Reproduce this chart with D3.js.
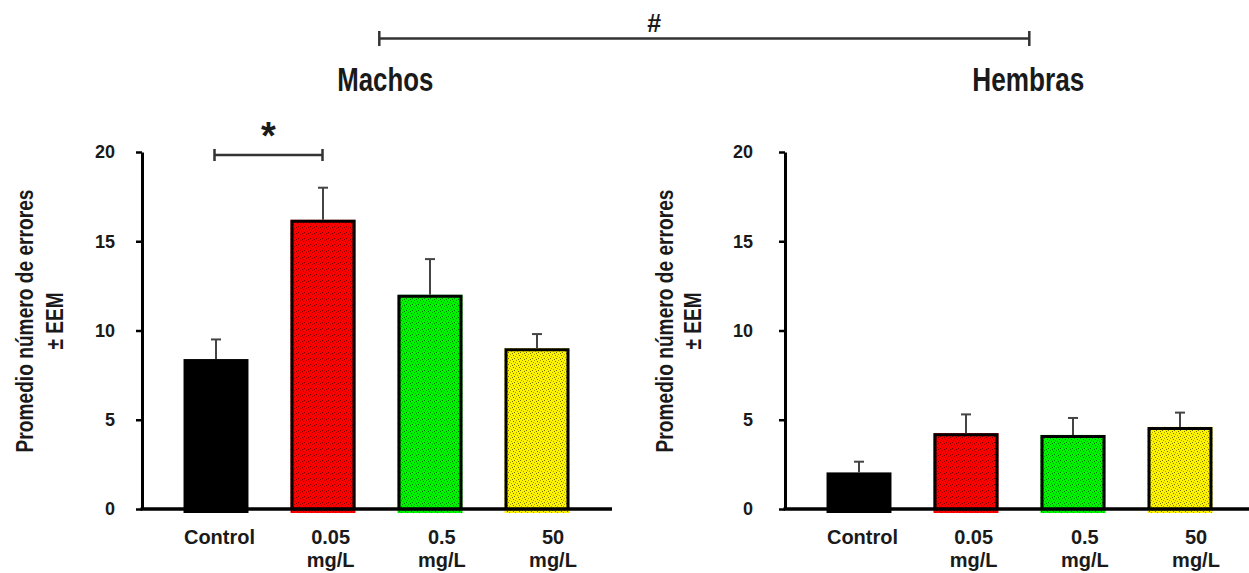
<!DOCTYPE html>
<html>
<head>
<meta charset="utf-8">
<script src="https://cdn.jsdelivr.net/npm/d3@7"></script>
<style>
  html, body { margin: 0; padding: 0; background: #fff; }
  svg { display: block; }
  text { font-family: "Liberation Sans", Arial, Helvetica, sans-serif; font-weight: bold; fill: #1a1a1a; }
</style>
</head>
<body>
<svg id="chart" width="1249" height="573"></svg>
<script>
// ---- data ----
const categories = ["Control", "0.05 mg/L", "0.5 mg/L", "50 mg/L"];
const catLine1 = ["Control", "0.05", "0.5", "50"];
const catLine2 = ["", "mg/L", "mg/L", "mg/L"];
const machosMean = [8.4, 16.2, 12.0, 9.0];
const machosSem = [1.1, 1.8, 2.0, 0.8];
const hembrasMean = [2.05, 4.25, 4.15, 4.6];
const hembrasSem = [0.6, 1.05, 0.95, 0.8];
const yTicks = [0, 5, 10, 15, 20];
const panelTitles = ["Machos", "Hembras"];
const yLabel = ["Promedio número de errores", "± EEM"];
const barColors = ["#000000", "#ff0000", "#00f400", "#fff400"];

// ---- layout ----
const svg = d3.select("#chart");
const y = d3.scaleLinear().domain([0, 20]).range([509, 152]);

const panels = [
  { title: panelTitles[0], mean: machosMean, sem: machosSem, axisX: 142, tickGap: 27, yl1: 109, yl2: 79, baseEnd: 612, titleLen: 96, sig: true },
  { title: panelTitles[1], mean: hembrasMean, sem: hembrasSem, axisX: 785, tickGap: 32, yl1: 112, yl2: 84, baseEnd: 1252, titleLen: 112, sig: false }
];

// patterns
const defs = svg.append("defs");
barColors.forEach((c, i) => {
  if (i === 0) return;
  const p = defs.append("pattern").attr("id", "pat" + i)
    .attr("patternUnits", "userSpaceOnUse").attr("width", 6).attr("height", 6);
  p.append("rect").attr("width", 6).attr("height", 6).attr("fill", c);
  const dots = [[0,0],[3,1],[1,3],[4,4],[5,2],[2,5]];
  dots.forEach(([dx, dy], k) => {
    p.append("rect").attr("x", dx).attr("y", dy).attr("width", 1).attr("height", 1)
      .attr("fill", k % 2 ? "rgba(0,0,0,0.55)" : "rgba(0,0,0,0.35)");
  });
});

const titleCenters = [];

panels.forEach(pn => {
  const g = svg.append("g");
  const r0 = pn.axisX + 20.5;
  const x = d3.scaleBand().domain(categories).range([r0, r0 + 428])
    .paddingInner(0.393).paddingOuter(0.1965);
  const bw = x.bandwidth();
  const cx = c => x(c) + bw / 2;
  const labelX = d3.scalePoint().domain(categories)
    .range([cx(categories[0]) + 3.5, cx(categories[3]) + 16]);

  // bars
  categories.forEach((c, i) => {
    const v = pn.mean[i];
    g.append("rect")
      .attr("x", x(c)).attr("width", bw)
      .attr("y", y(v)).attr("height", y(0) - y(v) + 4)
      .attr("fill", i === 0 ? barColors[0] : "url(#pat" + i + ")");
    if (i > 0) {
      g.append("path")
        .attr("d", `M${x(c) + 1.5},${y(0)}V${y(v) + 1.5}H${x(c) + bw - 1.5}V${y(0)}`)
        .attr("fill", "none").attr("stroke", "#000").attr("stroke-width", 3);
    }
    // error bars
    const top = y(v + pn.sem[i]);
    g.append("line").attr("x1", cx(c)).attr("x2", cx(c))
      .attr("y1", y(v)).attr("y2", top)
      .attr("stroke", "#444").attr("stroke-width", 2);
    g.append("line").attr("x1", cx(c) - 5).attr("x2", cx(c) + 5)
      .attr("y1", top).attr("y2", top)
      .attr("stroke", "#444").attr("stroke-width", 2);
  });

  // y axis
  const ax = g.append("g").attr("transform", `translate(${pn.axisX},0)`)
    .call(d3.axisLeft(y).tickValues(yTicks).tickSize(6).tickSizeOuter(0).tickPadding(pn.tickGap - 6));
  ax.select(".domain").attr("stroke", "#000").attr("stroke-width", 3);
  ax.selectAll(".tick line").attr("stroke", "#000").attr("stroke-width", 2.5);
  ax.selectAll(".tick text").style("font-size", "18px").style("font-weight", "bold")
    .style("font-family", '"Liberation Sans", Arial, sans-serif').attr("fill", "#1a1a1a");

  // baseline
  g.append("line").attr("x1", pn.axisX - 1.5).attr("x2", pn.baseEnd)
    .attr("y1", y(0)).attr("y2", y(0))
    .attr("stroke", "#000").attr("stroke-width", 3.5);

  // category labels
  categories.forEach((c, i) => {
    const t = g.append("text").attr("text-anchor", "middle").style("font-size", "20px");
    t.append("tspan").attr("x", labelX(c)).attr("y", 544).text(catLine1[i]);
    if (catLine2[i]) t.append("tspan").attr("x", labelX(c)).attr("y", 567).text(catLine2[i]);
  });

  // y label
  const ylg = g.append("g").attr("transform", `translate(0,321)`);
  ylg.append("text").attr("transform", `translate(${pn.axisX - pn.yl1},0) rotate(-90)`)
    .attr("text-anchor", "middle").style("font-size", "24px")
    .attr("textLength", 263).attr("lengthAdjust", "spacingAndGlyphs").text(yLabel[0]);
  ylg.append("text").attr("transform", `translate(${pn.axisX - pn.yl2},0) rotate(-90)`)
    .attr("text-anchor", "middle").style("font-size", "24px")
    .attr("textLength", 57).attr("lengthAdjust", "spacingAndGlyphs").text(yLabel[1]);

  // title
  const tc = pn.axisX + 243.3;
  titleCenters.push(tc);
  g.append("text").attr("x", tc).attr("y", 91).attr("text-anchor", "middle")
    .style("font-size", "34px").attr("textLength", pn.titleLen)
    .attr("lengthAdjust", "spacingAndGlyphs").text(pn.title);

  // significance bracket
  if (pn.sig) {
    const x1 = cx(categories[0]) - 1.5, x2 = cx(categories[1]) - 0.5, by = y(20) + 3;
    const sg = g.append("g").attr("stroke", "#333").attr("stroke-width", 2.5).attr("fill", "none");
    sg.append("line").attr("x1", x1).attr("x2", x2).attr("y1", by).attr("y2", by);
    sg.append("line").attr("x1", x1).attr("x2", x1).attr("y1", by - 6).attr("y2", by + 6);
    sg.append("line").attr("x1", x2).attr("x2", x2).attr("y1", by - 6).attr("y2", by + 6);
    g.append("text").attr("x", (x1 + x2) / 2).attr("y", by - 6).attr("text-anchor", "middle")
      .style("font-size", "38px").text("*");
  }
});

// top bracket between sexes
const tb = svg.append("g").attr("stroke", "#333").attr("stroke-width", 2.5);
const bx1 = titleCenters[0] - 6, bx2 = titleCenters[1] + 1, byy = 38.5;
tb.append("line").attr("x1", bx1).attr("x2", bx2).attr("y1", byy).attr("y2", byy);
tb.append("line").attr("x1", bx1).attr("x2", bx1).attr("y1", byy - 7.5).attr("y2", byy + 7.5);
tb.append("line").attr("x1", bx2).attr("x2", bx2).attr("y1", byy - 7.5).attr("y2", byy + 7.5);
svg.append("text").attr("x", bx1 + 0.423 * (bx2 - bx1)).attr("y", 32).attr("text-anchor", "middle")
  .style("font-size", "25px").text("#");
</script>
</body>
</html>
